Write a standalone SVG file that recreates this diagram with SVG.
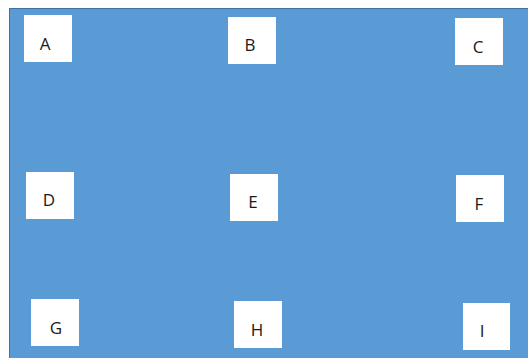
<svg xmlns="http://www.w3.org/2000/svg" width="528" height="358" viewBox="0 0 528 358">
<style>
.box{fill:#ffffff}
.lbl{font-family:"Open Sans","Liberation Sans",Arial,sans-serif;font-size:17px;fill:#1a1a1a;text-anchor:middle}
</style>
<rect x="0" y="0" width="528" height="358" fill="#ffffff"/>
<rect x="9" y="8" width="519" height="350" fill="#5b9bd5"/>
<line x1="9" y1="8.5" x2="528" y2="8.5" stroke="#41719c" stroke-width="1"/>
<line x1="9.5" y1="8" x2="9.5" y2="358" stroke="#41719c" stroke-width="1"/>
<g id="connectors"></g>
<g id="A"><rect class="box" x="24" y="15" width="48" height="47"/><text class="lbl" x="45" y="50">A</text></g>
<g id="B"><rect class="box" x="228" y="17" width="48" height="47"/><text class="lbl" x="250" y="51">B</text></g>
<g id="C"><rect class="box" x="455" y="18" width="48" height="47"/><text class="lbl" x="478" y="53">C</text></g>
<g id="D"><rect class="box" x="26" y="172" width="48" height="47"/><text class="lbl" x="49" y="206">D</text></g>
<g id="E"><rect class="box" x="230" y="174" width="48" height="47"/><text class="lbl" x="253" y="208">E</text></g>
<g id="F"><rect class="box" x="456" y="175" width="48" height="47"/><text class="lbl" x="479" y="210">F</text></g>
<g id="G"><rect class="box" x="31" y="299" width="48" height="47"/><text class="lbl" x="56" y="334">G</text></g>
<g id="H"><rect class="box" x="234" y="301" width="48" height="47"/><text class="lbl" x="257" y="336">H</text></g>
<g id="I"><rect class="box" x="463" y="303" width="47" height="47"/><text class="lbl" x="482" y="337">I</text></g>
</svg>
